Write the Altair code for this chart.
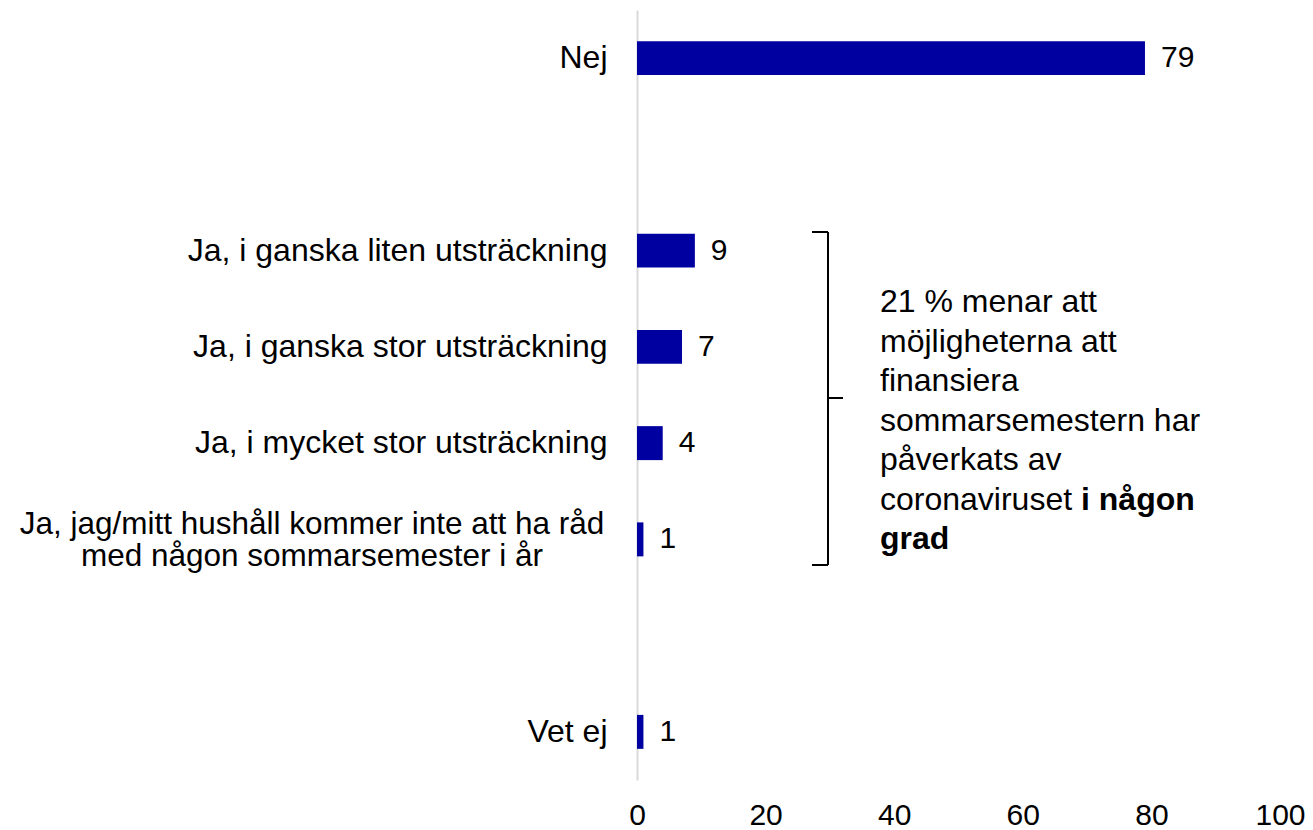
import altair as alt
import pandas as pd

# ---- data ----
categories = [
    "Nej",
    " ",
    "Ja, i ganska liten utsträckning",
    "Ja, i ganska stor utsträckning",
    "Ja, i mycket stor utsträckning",
    "Ja, jag/mitt hushåll kommer inte att ha råd|med någon sommarsemester i år",
    "  ",
    "Vet ej",
]
values = [79, None, 9, 7, 4, 1, None, 1]
x_ticks = [0, 20, 40, 60, 80, 100]
annotation_lines = ["21 % menar att", "möjligheterna att", "finansiera",
                    "sommarsemestern har", "påverkats av", "coronaviruset"]
annotation_bold_inline = "i någon"
annotation_bold_last = "grad"

df = pd.DataFrame({"cat": categories, "val": values}).dropna()
df_multi = df[df["cat"].str.contains(r"\|")]
one = pd.DataFrame({"a": [0]})

FONT = "Liberation Sans"
W, H = 643, 770
BAR_COLOR = "#0000A0"

yscale = alt.Scale(domain=categories, paddingInner=0.647, paddingOuter=0.3235)
xscale = alt.Scale(domain=[0, 100], nice=False)

y_enc = alt.Y(
    "cat:N", scale=yscale, sort=categories,
    axis=alt.Axis(title=None, ticks=False, grid=False, domainColor="#d9d9d9",
                  domainWidth=2, labelFontSize=32, labelPadding=30, labelLimit=1000,
                  labelColor="black", labelFont=FONT,
                  labelExpr="indexof(datum.label, '|') >= 0 ? '' : datum.label"),
)
x_enc = alt.X(
    "val:Q", scale=xscale,
    axis=alt.Axis(values=x_ticks, title=None, domain=False, ticks=False, grid=False,
                  labelFontSize=30, labelPadding=20, labelColor="black",
                  labelFont=FONT, labelFlush=False),
)

bars = alt.Chart(df).mark_bar(color=BAR_COLOR).encode(x=x_enc, y=y_enc)

value_labels = alt.Chart(df).mark_text(
    align="left", baseline="middle", dx=16, fontSize=30, font=FONT, color="black"
).encode(x="val:Q", y=alt.Y("cat:N", sort=categories), text="val:Q")

multi_label = alt.Chart(df_multi).mark_text(
    align="center", baseline="middle", lineBreak="|", lineHeight=32, dy=-14,
    fontSize=31.5, font=FONT, color="black"
).encode(y=alt.Y("cat:N", sort=categories), x=alt.value(-325), text="cat:N")

# bracket
def rule(x1, x2, y1, y2):
    return alt.Chart(one).mark_rule(color="black", strokeWidth=2).encode(
        x=alt.value(x1), x2=alt.value(x2), y=alt.value(y1), y2=alt.value(y2))

bracket = [
    rule(191, 191, 222, 555),
    rule(175, 191, 222, 222),
    rule(175, 191, 555, 555),
    rule(191, 206, 388, 388),
]

# annotation text
ann = alt.Chart(one).mark_text(
    align="left", baseline="middle", fontSize=32, font=FONT, color="black",
    lineHeight=39.5, text=annotation_lines
).encode(x=alt.value(243), y=alt.value(292))

ann_bold1 = alt.Chart(one).mark_text(
    align="left", baseline="middle", fontSize=32, font=FONT, color="black",
    fontWeight="bold", text=annotation_bold_inline
).encode(x=alt.value(444), y=alt.value(489.5))

ann_bold2 = alt.Chart(one).mark_text(
    align="left", baseline="middle", fontSize=32, font=FONT, color="black",
    fontWeight="bold", text=annotation_bold_last
).encode(x=alt.value(243), y=alt.value(529))

chart = alt.layer(bars, value_labels, multi_label, *bracket, ann, ann_bold1, ann_bold2).properties(
    width=W, height=H,
    autosize=alt.AutoSizeParams(type="none"),
    padding={"left": 637, "top": 10, "right": 30, "bottom": 50},
    background="white",
).configure(font=FONT).configure_view(stroke=None)

chart.save("out.html", embed_options={"renderer": "svg", "actions": False})
